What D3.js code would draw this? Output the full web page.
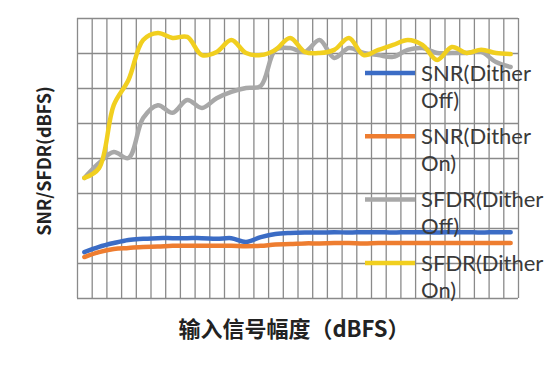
<!DOCTYPE html>
<html>
<head>
<meta charset="utf-8">
<script src="https://cdn.jsdelivr.net/npm/d3@7"></script>
<style>
  body { margin: 0; background: #fff; }
  .grid line, .grid path { stroke: #8a8a8a; stroke-width: 1.3; }
  .grid text { display: none; }
</style>
</head>
<body>
<script>
// 30 input levels (no labels shown on the chart)
const categories = ["1","2","3","4","5","6","7","8","9","10","11","12","13","14","15",
  "16","17","18","19","20","21","22","23","24","25","26","27","28","29","30"];

const snrOff = [33.1,34.6,35.7,36.6,36.9,37.1,37.1,37.1,37.1,36.9,37.1,36.0,37.4,38.3,38.6,
  38.7,38.7,38.8,38.7,38.8,38.8,38.7,38.8,38.8,38.7,38.8,38.8,38.7,38.8,38.8];
const snrOn = [31.7,33.1,34.0,34.3,34.6,34.7,34.9,34.9,34.9,34.9,34.9,34.8,34.9,35.3,35.4,
  35.6,35.6,35.7,35.7,35.6,35.7,35.7,35.7,35.7,35.7,35.7,35.7,35.7,35.7,35.7];
const sfdrOff = [54.3,58.6,61.7,60.0,71.4,75.1,72.9,76.6,74.3,77.1,78.9,80.0,80.6,90.9,91.4,
  90.3,93.7,88.6,91.4,90.0,89.4,88.9,90.9,91.4,90.0,90.0,90.0,90.3,87.4,86.0];
const sfdrOn = [54.3,57.1,75.1,82.3,93.7,95.7,94.3,94.6,89.4,90.3,93.7,90.0,89.4,90.9,94.3,
  90.3,90.0,90.9,94.3,89.4,90.9,92.3,93.7,92.3,88.0,91.7,90.0,90.9,90.0,89.7];

const seriesNames = [["SNR(Dither", "Off)"], ["SNR(Dither", "On)"], ["SFDR(Dither", "Off)"], ["SFDR(Dither", "On)"]];
const seriesValues = [snrOff, snrOn, sfdrOff, sfdrOn];
const colors = ["#3b6cc5", "#ee7d30", "#a8a8a8", "#f1cf1f"];

const yTicks = [20, 30, 40, 50, 60, 70, 80, 90, 100];

const width = 560, height = 375;
const plot = { left: 77, right: 518, top: 18, bottom: 298 };

const svg = d3.select("body").append("svg")
  .attr("width", width)
  .attr("height", height);

// grid scale spans category edges, band scale gives category centres
const xGrid = d3.scaleLinear().domain([0, categories.length]).range([plot.left, plot.right]);
const x = d3.scaleBand().domain(categories).range([plot.left, plot.right]);
const y = d3.scaleLinear().domain([20, 100]).range([plot.bottom, plot.top]);

// vertical grid
svg.append("g")
  .attr("class", "grid")
  .attr("transform", "translate(0," + plot.bottom + ")")
  .call(d3.axisBottom(xGrid)
    .tickValues(d3.range(0, categories.length + 1))
    .tickSize(-(plot.bottom - plot.top))
    .tickFormat(""))
  .call(g => g.select(".domain").remove());

// horizontal grid
svg.append("g")
  .attr("class", "grid")
  .attr("transform", "translate(" + plot.left + ",0)")
  .call(d3.axisLeft(y)
    .tickValues(yTicks)
    .tickSize(-(plot.right - plot.left))
    .tickFormat(""))
  .call(g => g.select(".domain").remove());

const line = d3.line()
  .x((d, i) => x(categories[i]) + x.bandwidth() / 2)
  .y(d => y(d))
  .curve(d3.curveCatmullRom.alpha(0.5));

svg.append("g")
  .selectAll("path")
  .data(seriesValues)
  .join("path")
  .attr("d", line)
  .attr("fill", "none")
  .attr("stroke", (d, i) => colors[i])
  .attr("stroke-width", 4.5)
  .attr("stroke-linejoin", "round")
  .attr("stroke-linecap", "round");

// legend, drawn on top of the plot
const legend = svg.append("g")
  .selectAll("g")
  .data(seriesNames)
  .join("g")
  .attr("transform", (d, i) => "translate(365," + (73 + i * 63.3) + ")");

legend.append("line")
  .attr("x1", 0).attr("x2", 50)
  .attr("stroke", (d, i) => colors[i])
  .attr("stroke-width", 4.5);

legend.append("text")
  .attr("x", 56)
  .attr("fill", "#3a3a3a")
  .style("font-family", "Lato, 'Noto Sans', sans-serif")
  .style("font-weight", 400)
  .style("font-size", "22px")
  .selectAll("tspan")
  .data(d => d)
  .join("tspan")
  .attr("x", 56)
  .attr("y", (d, i) => i * 27)
  .attr("dy", "0.35em")
  .text(d => d);

// axis titles
svg.append("text")
  .attr("transform", "translate(45,161) rotate(-90)")
  .attr("text-anchor", "middle")
  .attr("dy", "0.35em")
  .attr("fill", "#222")
  .style("font-family", "'Noto Sans CJK SC', sans-serif")
  .style("font-weight", 700)
  .style("font-size", "18px")
  .text("SNR/SFDR(dBFS)");

svg.append("text")
  .attr("x", 294)
  .attr("y", 329)
  .attr("text-anchor", "middle")
  .attr("dy", "0.35em")
  .attr("fill", "#222")
  .style("font-family", "'Noto Sans CJK SC', sans-serif")
  .style("font-weight", 700)
  .style("font-size", "22px")
  .text("输入信号幅度（dBFS）");
</script>
</body>
</html>
